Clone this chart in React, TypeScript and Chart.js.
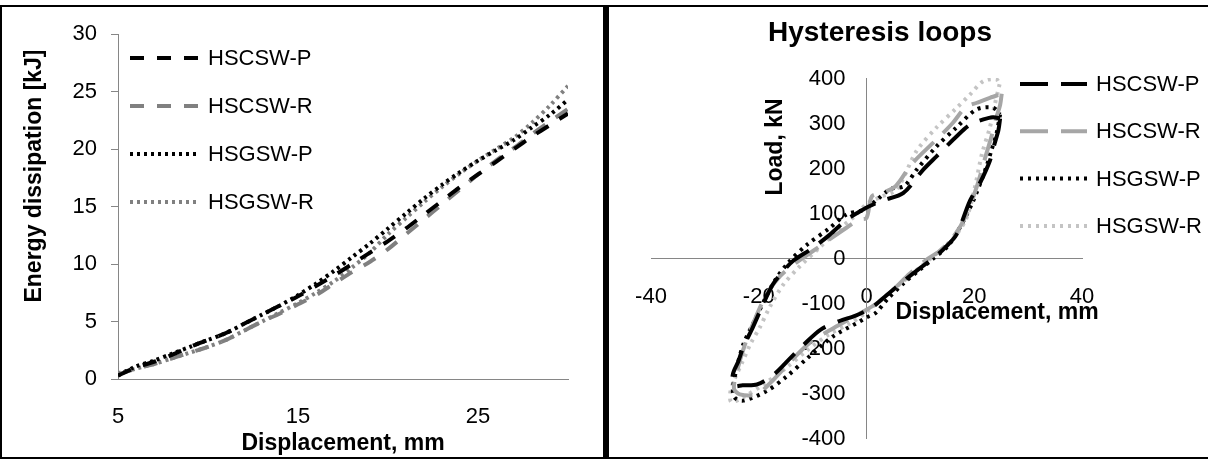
import React, { useEffect, useRef } from 'react';
import { Chart, registerables } from 'chart.js';

Chart.register(...registerables);

// ---------- DATA ----------
const SERIES_NAMES = ['HSCSW-P', 'HSCSW-R', 'HSGSW-P', 'HSGSW-R'];

// Energy dissipation chart
const ENERGY_DISP = [5, 6, 7, 8, 9, 10, 11, 12, 13, 14, 15, 16, 17, 18, 19, 20, 21, 22, 23, 24, 25, 26, 27, 28, 29, 30];
const ENERGY_HSCSW_P = [0.3, 1.0, 1.5, 2.1, 2.8, 3.4, 4.0, 4.8, 5.6, 6.4, 7.2, 8.1, 9.0, 10.0, 11.0, 12.0, 13.1, 14.3, 15.5, 16.7, 17.8, 18.9, 20.0, 21.1, 22.1, 23.1];
const ENERGY_HSCSW_R = [0.4, 0.9, 1.3, 1.8, 2.3, 2.8, 3.4, 4.2, 5.0, 5.7, 6.5, 7.3, 8.3, 9.3, 10.2, 11.3, 12.6, 13.9, 15.2, 16.5, 17.8, 19.0, 20.1, 21.3, 22.4, 23.5];
const ENERGY_HSGSW_P = [0.3, 1.1, 1.6, 2.2, 2.8, 3.4, 4.0, 4.8, 5.6, 6.4, 7.3, 8.3, 9.4, 10.6, 11.8, 13.1, 14.4, 15.7, 16.9, 18.0, 19.0, 19.9, 20.8, 21.9, 23.0, 24.3];
const ENERGY_HSGSW_R = [0.5, 0.9, 1.3, 1.8, 2.3, 2.8, 3.4, 4.2, 5.0, 5.8, 6.6, 7.5, 8.5, 9.7, 11.0, 12.6, 14.0, 15.4, 16.7, 17.9, 19.0, 20.0, 21.0, 22.3, 23.8, 25.5];
const ENERGY_X_TICKS = [5, 15, 25];
const ENERGY_Y_MIN = 0;
const ENERGY_Y_MAX = 30;
const ENERGY_Y_STEP = 5;

// Hysteresis loops chart
const LOOP_HSCSW_P_X = [24.8, 24.5, 23.8, 22.9, 21.2, 19.2, 16.7, 14.5, 12.5, 10, 7, 4, 1, -2, -5, -8.5, -11.6, -14.1, -17.2, -20.3, -23, -24.7, -24.8, -23.8, -22.9, -21.1, -19.2, -17.4, -15.5, -13.6, -10, -6.8, -3.7, -1, 0.5, 3, 6.8, 10.5, 13, 16.7, 19.2, 21.7, 23.5, 24.8];
const LOOP_HSCSW_P_Y = [310, 285, 255, 216, 170, 127, 52, 22, 0, -22, -50, -80, -110, -128, -140, -159, -192, -222, -259, -281, -283, -284, -258, -230, -199, -154, -103, -59, -30, -6, 22, 52, 85, 105, 115, 128, 144, 196, 226, 270, 296, 308, 313, 310];
const LOOP_HSCSW_R_X = [25.1, 24.8, 24.1, 23.2, 22.2, 20.4, 18.3, 16, 13.5, 11, 8, 5, 2, 0, -3, -6, -10.5, -14.9, -17.8, -20.4, -23.5, -24.6, -24, -22.5, -20.5, -18.5, -16, -13, -10, -7.4, -4, -1.5, 0, 1, 3, 5.5, 8.4, 13.4, 16, 18.4, 20.5, 22.9, 25.1];
const LOOP_HSCSW_R_Y = [365, 340, 312, 270, 230, 156, 90, 45, 15, -5, -35, -70, -100, -115, -135, -155, -188, -240, -277, -303, -303, -290, -250, -190, -130, -80, -40, -10, 15, 37, 65, 85, 89, 137, 145, 161, 209, 268, 300, 335, 345, 356, 365];
const LOOP_HSGSW_P_X = [24.8, 24.1, 23.2, 22.2, 19.8, 17.3, 15, 12.5, 10, 7, 4, 1.7, 0, -1.4, -6.3, -11.2, -14.9, -18.6, -22.9, -24.5, -24.8, -24, -22.8, -20.8, -18.8, -17, -14.5, -11, -7, -3.7, -1, 0, 2, 4.4, 7, 9.3, 13, 16.7, 20.4, 23.5, 24.8];
const LOOP_HSGSW_P_Y = [319, 275, 240, 201, 127, 67, 25, 0, -25, -55, -90, -122, -132, -142, -175, -225, -264, -296, -317, -310, -290, -240, -190, -140, -90, -50, -10, 30, 65, 97, 105, 110, 130, 153, 160, 196, 248, 290, 330, 334, 319];
const LOOP_HSGSW_R_X = [24.7, 23.8, 22.9, 21.4, 20.1, 18.6, 16.7, 14.5, 12, 9, 6, 3, 0, -3, -7, -11, -15, -19, -23, -25.1, -25.3, -24.5, -23, -21.5, -19.8, -18, -15.5, -12.5, -9, -5.5, -2, 0, 2.5, 5.6, 9.3, 13, 16.7, 19.2, 21.7, 24.1, 24.7];
const LOOP_HSGSW_R_Y = [386, 340, 290, 230, 156, 90, 52, 25, 0, -30, -60, -90, -120, -145, -170, -205, -245, -280, -310, -320, -300, -270, -230, -190, -154, -110, -60, -20, 20, 60, 95, 120, 135, 153, 238, 290, 333, 363, 393, 397, 386];
const LOOP_X_MIN = -40;
const LOOP_X_MAX = 40;
const LOOP_X_STEP = 20;
const LOOP_Y_TICKS = [-400, -300, -200, -100, 0, 100, 200, 300, 400];

// ---------- STYLE ----------
const FONT = "'Liberation Sans', Arial, sans-serif";
const AXIS_GRAY = '#868686';

const zip = (xs: number[], ys: number[]) => xs.map((x, i) => ({ x, y: ys[i] }));

type TextItem = { text: string; x: number; y: number; font: string; rot?: number };

const overlayPlugin = (texts: TextItem[], legend: { x0: number; x1: number; tx: number; y0: number; dy: number }) => ({
  id: 'overlay',
  afterDraw(chart: any) {
    const ctx = chart.ctx;
    ctx.save();
    ctx.fillStyle = '#000';
    texts.forEach((t) => {
      ctx.save();
      ctx.font = t.font;
      ctx.textAlign = 'center';
      ctx.textBaseline = 'middle';
      ctx.translate(t.x, t.y);
      if (t.rot) ctx.rotate(t.rot);
      ctx.fillText(t.text, 0, 0);
      ctx.restore();
    });
    chart.data.datasets.forEach((ds: any, i: number) => {
      const y = legend.y0 + i * legend.dy;
      ctx.save();
      ctx.beginPath();
      ctx.setLineDash(ds.borderDash || []);
      ctx.lineWidth = ds.borderWidth;
      ctx.strokeStyle = ds.borderColor;
      ctx.lineCap = ds.borderCapStyle || 'butt';
      ctx.moveTo(legend.x0, y);
      ctx.lineTo(legend.x1, y);
      ctx.stroke();
      ctx.restore();
      ctx.font = `22px ${FONT}`;
      ctx.textAlign = 'left';
      ctx.textBaseline = 'middle';
      ctx.fillStyle = '#000';
      ctx.fillText(ds.label, legend.tx, y + 1);
    });
    ctx.restore();
  },
});

const loopAxisLabels = {
  id: 'loopAxisLabels',
  beforeDatasetsDraw(chart: any) {
    const ctx = chart.ctx;
    const xs = chart.scales.x;
    const ys = chart.scales.y;
    const x0 = xs.getPixelForValue(0);
    ctx.save();
    ctx.font = `22px ${FONT}`;
    ctx.fillStyle = '#000';
    ctx.textAlign = 'right';
    ctx.textBaseline = 'middle';
    LOOP_Y_TICKS.forEach((v) => {
      ctx.fillText(String(v), x0 - 21, ys.getPixelForValue(v) + 1);
    });
    ctx.restore();
  },
};

export default function App() {
  const leftRef = useRef<HTMLCanvasElement>(null);
  const rightRef = useRef<HTMLCanvasElement>(null);

  useEffect(() => {
    const leftSeries = [ENERGY_HSCSW_P, ENERGY_HSCSW_R, ENERGY_HSGSW_P, ENERGY_HSGSW_R];
    const leftColors = ['#000000', '#808080', '#000000', '#808080'];
    const leftDash = [[14, 13], [14, 13], [3, 4], [3, 4]];

    const left = new Chart(leftRef.current!, {
      type: 'scatter',
      data: {
        datasets: leftSeries.map((ys, i) => ({
          label: SERIES_NAMES[i],
          data: zip(ENERGY_DISP, ys),
          showLine: true,
          borderColor: leftColors[i],
          backgroundColor: leftColors[i],
          borderWidth: 4,
          borderDash: leftDash[i],
          pointRadius: 0,
          tension: 0.3,
        })),
      },
      options: {
        responsive: false,
        animation: false,
        devicePixelRatio: 1,
        layout: { padding: { left: 0, top: 26, right: 34, bottom: 0 } },
        plugins: { legend: { display: false }, tooltip: { enabled: false }, title: { display: false } },
        scales: {
          x: {
            type: 'linear',
            min: ENERGY_DISP[0],
            max: ENERGY_DISP[ENERGY_DISP.length - 1],
            afterBuildTicks: (s: any) => {
              s.ticks = ENERGY_X_TICKS.map((v) => ({ value: v }));
            },
            afterFit: (s: any) => {
              s.height = 78;
            },
            grid: { display: false },
            border: { color: AXIS_GRAY, width: 1 },
            ticks: { padding: 17, color: '#000', font: { size: 22, family: FONT }, maxRotation: 0, autoSkip: false },
          },
          y: {
            type: 'linear',
            min: ENERGY_Y_MIN,
            max: ENERGY_Y_MAX,
            afterFit: (s: any) => {
              s.width = 116;
            },
            grid: { drawOnChartArea: false, drawTicks: true, tickLength: 7, color: AXIS_GRAY },
            border: { color: AXIS_GRAY, width: 1 },
            ticks: { stepSize: ENERGY_Y_STEP, padding: 14, color: '#000', font: { size: 22, family: FONT } },
          },
        },
      },
      plugins: [
        overlayPlugin(
          [
            { text: 'Energy dissipation [kJ]', x: 33, y: 169, font: `bold 23px ${FONT}`, rot: -Math.PI / 2 },
            { text: 'Displacement, mm', x: 341, y: 437, font: `bold 23px ${FONT}` },
          ],
          { x0: 128, x1: 196, tx: 206, y0: 51, dy: 48 }
        ),
      ],
    } as any);

    const loops = [
      [LOOP_HSCSW_P_X, LOOP_HSCSW_P_Y],
      [LOOP_HSCSW_R_X, LOOP_HSCSW_R_Y],
      [LOOP_HSGSW_P_X, LOOP_HSGSW_P_Y],
      [LOOP_HSGSW_R_X, LOOP_HSGSW_R_Y],
    ];
    const rightColors = ['#000000', '#a6a6a6', '#000000', '#c4c4c4'];
    const rightDash = [[28, 13], [28, 13], [3, 5], [3, 5]];

    const right = new Chart(rightRef.current!, {
      type: 'scatter',
      data: {
        datasets: loops.map(([xs, ys], i) => ({
          label: SERIES_NAMES[i],
          data: zip(xs, ys),
          showLine: true,
          borderColor: rightColors[i],
          backgroundColor: rightColors[i],
          borderWidth: 4,
          borderDash: rightDash[i],
          pointRadius: 0,
          tension: 0.3,
        })),
      },
      options: {
        responsive: false,
        animation: false,
        devicePixelRatio: 1,
        layout: { padding: { left: 42, top: 71, right: 126, bottom: 19 } },
        plugins: { legend: { display: false }, tooltip: { enabled: false }, title: { display: false } },
        scales: {
          x: {
            type: 'linear',
            position: { y: 0 },
            min: LOOP_X_MIN,
            max: LOOP_X_MAX,
            grid: { display: false },
            border: { color: AXIS_GRAY, width: 1 },
            ticks: { stepSize: LOOP_X_STEP, padding: 18, color: '#000', font: { size: 22, family: FONT }, maxRotation: 0, autoSkip: false },
          },
          y: {
            type: 'linear',
            position: { x: 0 },
            min: LOOP_Y_TICKS[0],
            max: LOOP_Y_TICKS[LOOP_Y_TICKS.length - 1],
            grid: { display: false },
            border: { color: AXIS_GRAY, width: 1 },
            ticks: { display: false, stepSize: 100 },
          },
        },
      },
      plugins: [
        loopAxisLabels,
        overlayPlugin(
          [
            { text: 'Hysteresis loops', x: 271, y: 26, font: `bold 28px ${FONT}` },
            { text: 'Load, kN', x: 167, y: 140, font: `bold 23px ${FONT}`, rot: -Math.PI / 2 },
            { text: 'Displacement, mm', x: 388, y: 306, font: `bold 23px ${FONT}` },
          ],
          { x0: 411, x1: 478, tx: 487, y0: 77, dy: 47.3 }
        ),
      ],
    } as any);

    return () => {
      left.destroy();
      right.destroy();
    };
  }, []);

  const line = (l: number, t: number, w: number, h: number) => (
    <div style={{ position: 'absolute', left: l, top: t, width: w, height: h, background: '#000' }} />
  );

  return (
    <div style={{ position: 'fixed', left: 0, top: 0, width: 1208, height: 459, background: '#fff', overflow: 'hidden' }}>
      {line(0, 5, 1208, 2)}
      {line(0, 5, 2, 454)}
      {line(0, 457, 1208, 2)}
      {line(603, 5, 6, 454)}
      <canvas ref={leftRef} width={600} height={450} style={{ position: 'absolute', left: 2, top: 7, width: 600, height: 450 }} />
      <canvas ref={rightRef} width={599} height={450} style={{ position: 'absolute', left: 609, top: 7, width: 599, height: 450 }} />
    </div>
  );
}
